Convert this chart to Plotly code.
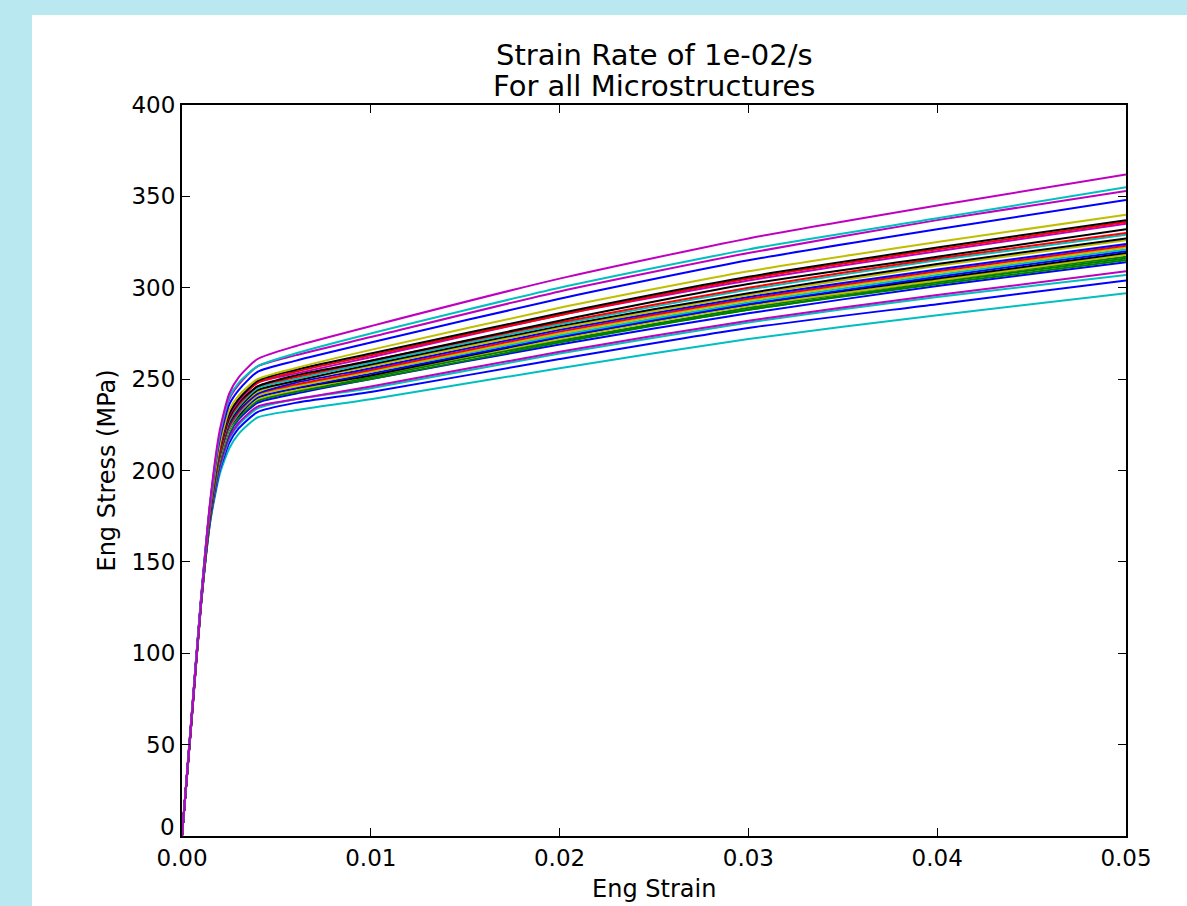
import plotly.graph_objects as go

strain = [0, 0.0005, 0.001, 0.0015, 0.002, 0.0025, 0.003, 0.004, 0.006, 0.01, 0.02, 0.03, 0.04, 0.05]

curve_colors = ["c", "b", "c", "m", "b", "g", "g", "g", "y", "k", "b", "c", "y", "r",
                "b", "y", "k", "c", "r", "k", "m", "r", "k", "y", "b", "m", "c", "m"]
curve_stress = [
    [0, 62, 125, 172, 198, 212, 220, 229, 233, 239, 256, 272, 285, 297],
    [0, 62, 126, 173, 200, 215, 223, 232, 237, 243, 261, 278, 291, 304],
    [0, 62, 126, 173, 201, 217, 225, 234, 239, 245, 264, 281, 295, 307],
    [0, 62, 126, 174, 202, 218, 226, 235, 239, 246, 265, 282, 296, 309],
    [0, 63, 126, 175, 204, 220, 228, 237, 242, 250, 269, 286, 301, 314],
    [0, 63, 126, 175, 205, 221, 229, 238, 243, 250, 270, 288, 302, 315],
    [0, 63, 127, 176, 205, 221, 229, 239, 243, 251, 271, 288, 303, 316],
    [0, 63, 127, 176, 205, 222, 230, 239, 244, 252, 271, 289, 304, 317],
    [0, 63, 127, 176, 206, 222, 230, 239, 244, 252, 272, 290, 304, 318],
    [0, 63, 127, 176, 206, 223, 230, 240, 245, 252, 273, 291, 305, 319],
    [0, 63, 127, 176, 207, 223, 231, 240, 245, 253, 273, 291, 306, 320],
    [0, 63, 127, 177, 207, 223, 231, 241, 246, 254, 274, 292, 307, 321],
    [0, 63, 127, 177, 207, 224, 232, 241, 246, 254, 275, 293, 308, 322],
    [0, 63, 127, 177, 208, 224, 232, 242, 247, 255, 276, 294, 309, 323],
    [0, 63, 127, 177, 208, 225, 233, 242, 248, 256, 277, 295, 310, 324],
    [0, 63, 127, 178, 209, 226, 234, 243, 249, 257, 278, 296, 312, 326],
    [0, 63, 127, 178, 209, 226, 234, 244, 249, 258, 279, 297, 313, 327],
    [0, 63, 127, 178, 210, 227, 235, 245, 250, 259, 280, 299, 315, 329],
    [0, 63, 128, 178, 210, 228, 236, 246, 251, 260, 281, 300, 316, 330],
    [0, 64, 128, 178, 211, 229, 237, 246, 252, 260, 282, 302, 317, 332],
    [0, 64, 128, 179, 212, 230, 238, 248, 253, 262, 285, 304, 320, 335],
    [0, 64, 128, 179, 212, 231, 239, 248, 254, 263, 285, 305, 321, 336],
    [0, 64, 128, 179, 213, 231, 239, 249, 255, 264, 286, 306, 322, 337],
    [0, 64, 128, 180, 214, 233, 241, 250, 256, 266, 289, 309, 325, 340],
    [0, 64, 129, 182, 217, 236, 244, 254, 260, 270, 294, 315, 332, 348],
    [0, 65, 129, 183, 219, 239, 247, 257, 263, 273, 298, 319, 337, 353],
    [0, 65, 129, 183, 220, 240, 248, 257, 264, 275, 300, 321, 338, 355],
    [0, 64, 127, 184, 222, 242, 251, 261, 268, 279, 305, 327, 345, 362],
]

x_ticks = [0.00, 0.01, 0.02, 0.03, 0.04, 0.05]
x_tick_labels = ["0.00", "0.01", "0.02", "0.03", "0.04", "0.05"]
y_ticks = [0, 50, 100, 150, 200, 250, 300, 350, 400]
y_tick_labels = ["", "50", "100", "150", "200", "250", "300", "350", "400"]
y_zero_label = "0"
title_lines = ["Strain Rate of 1e-02/s", "For all Microstructures"]
x_label = "Eng Strain"
y_label = "Eng Stress (MPa)"

palette = {"b": "#0000ff", "g": "#008000", "r": "#ff0000", "c": "#00bfbf",
           "m": "#bf00bf", "y": "#bfbf00", "k": "#000000"}

fig = go.Figure()
for col, ys in zip(curve_colors, curve_stress):
    fig.add_trace(go.Scatter(x=strain, y=ys, mode="lines",
                             line=dict(color=palette[col], width=2, shape="spline", smoothing=0.6),
                             showlegend=False, hoverinfo="skip"))

font = "DejaVu Sans, sans-serif"
L, R, T, B = 182, 61, 105, 70
W, H = 1187, 906
pw, ph = W - L - R, H - T - B


def py(p):
    return (H - B - p) / ph


def px(p):
    return (p - L) / pw


fig.add_shape(type="rect", xref="paper", yref="paper",
              x0=px(32), x1=1.2, y0=-0.3, y1=py(15),
              fillcolor="white", line=dict(width=0), layer="below")

fig.add_annotation(text=title_lines[0], xref="paper", yref="paper", x=0.5, y=py(55),
                   xanchor="center", yanchor="middle", showarrow=False,
                   font=dict(family=font, size=29, color="black"))
fig.add_annotation(text=title_lines[1], xref="paper", yref="paper", x=0.5, y=py(86),
                   xanchor="center", yanchor="middle", showarrow=False,
                   font=dict(family=font, size=29, color="black"))
fig.add_annotation(text=x_label, xref="paper", yref="paper", x=0.5, y=py(889),
                   xanchor="center", yanchor="middle", showarrow=False,
                   font=dict(family=font, size=24, color="black"))
fig.add_annotation(text=y_label, xref="paper", yref="paper", x=px(106), y=0.5,
                   xanchor="center", yanchor="middle", showarrow=False, textangle=-90,
                   font=dict(family=font, size=24, color="black"))
fig.add_annotation(text=y_zero_label, xref="paper", yref="paper", x=px(177), y=py(827),
                   xanchor="right", yanchor="middle", showarrow=False,
                   font=dict(family=font, size=23, color="black"))

fig.update_layout(
    width=W, height=H,
    margin=dict(l=L, r=R, t=T, b=B),
    paper_bgcolor="#b9e8f1",
    plot_bgcolor="white",
    font=dict(family=font, size=23, color="black"),
    xaxis=dict(range=[0, 0.05], tickvals=x_ticks, ticktext=x_tick_labels,
               showgrid=False, zeroline=False, showline=True, linecolor="black",
               linewidth=2, mirror="ticks", ticks="inside", ticklen=8, tickcolor="black",
               tickfont=dict(size=23)),
    yaxis=dict(range=[0, 400], tickvals=y_ticks, ticktext=y_tick_labels,
               showgrid=False, zeroline=False, showline=True, linecolor="black",
               linewidth=2, mirror="ticks", ticks="inside", ticklen=8, tickcolor="black",
               tickfont=dict(size=23)),
)

fig.write_html("out.html", config={"displayModeBar": False},
               post_script="document.body.style.margin='0';document.body.style.overflow='hidden';")
